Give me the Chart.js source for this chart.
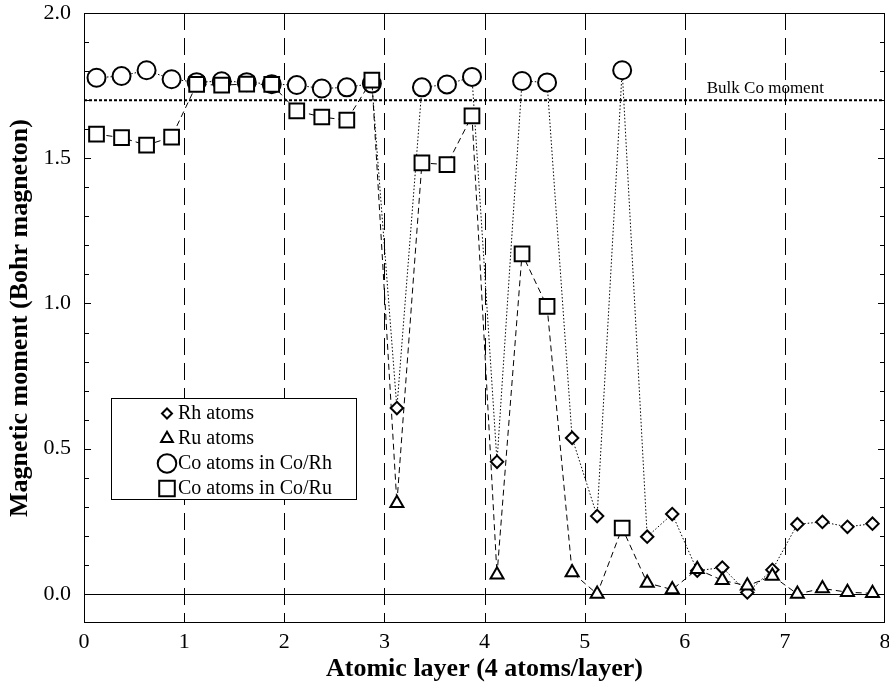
<!DOCTYPE html>
<html>
<head>
<meta charset="utf-8">
<title>Magnetic moment per atomic layer</title>
<script src="https://cdn.jsdelivr.net/npm/chart.js@4.4.1/dist/chart.umd.min.js"></script>
<style>
  html, body { margin: 0; padding: 0; background: #fff; }
  #wrap { width: 889px; height: 685px; }
</style>
</head>
<body>
<div id="wrap"><canvas id="momentChart" width="889" height="685"></canvas></div>
<script>
const SERIF = "'Liberation Serif', 'Times New Roman', serif";

// atom sites along the stack, 4 atoms per layer
const layerPos = [
  0.125, 0.375, 0.625, 0.875, 1.125, 1.375, 1.625, 1.875,
  2.125, 2.375, 2.625, 2.875, 3.125, 3.375, 3.625, 3.875,
  4.125, 4.375, 4.625, 4.875, 5.125, 5.375, 5.625, 5.875,
  6.125, 6.375, 6.625, 6.875, 7.125, 7.375, 7.625, 7.875
];
// 'Co' = cobalt site, 'X' = spacer site (Rh in Co/Rh, Ru in Co/Ru)
const siteAtom = [
  'Co', 'Co', 'Co', 'Co', 'Co', 'Co', 'Co', 'Co',
  'Co', 'Co', 'Co', 'Co', 'X', 'Co', 'Co', 'Co',
  'X', 'Co', 'Co', 'X', 'X', 'Co', 'X', 'X',
  'X', 'X', 'X', 'X', 'X', 'X', 'X', 'X'
];
const coRhMoment = [
  1.777, 1.783, 1.803, 1.772, 1.762, 1.765, 1.762, 1.755,
  1.752, 1.740, 1.744, 1.757, 0.640, 1.744, 1.754, 1.780,
  0.455, 1.766, 1.761, 0.537, 0.268, 1.803, 0.197, 0.275,
  0.080, 0.091, 0.005, 0.083, 0.240, 0.248, 0.231, 0.242
];
const coRuMoment = [
  1.583, 1.571, 1.545, 1.573, 1.754, 1.752, 1.755, 1.754,
  1.663, 1.642, 1.631, 1.769, 0.312, 1.484, 1.478, 1.646,
  0.066, 1.171, 0.990, 0.074, 0.000, 0.227, 0.038, 0.015,
  0.085, 0.047, 0.028, 0.062, 0.000, 0.019, 0.006, 0.002
];
const layerBounds = [1, 2, 3, 4, 5, 6, 7];
const bulkCoMoment = 1.7;

function sitePoints(values, atom) {
  return layerPos.map((x, i) => ({ x: x, y: values[i], atom: siteAtom[i] }))
    .filter(p => !atom || p.atom === atom);
}

function markerSet(label, values, atom, style, radius) {
  return {
    label: label,
    data: sitePoints(values, atom),
    showLine: false,
    pointStyle: style,
    pointRadius: radius,
    pointHoverRadius: radius,
    pointBorderWidth: 2,
    pointBorderColor: '#000',
    pointBackgroundColor: '#fff',
    borderColor: '#000',
    backgroundColor: '#fff'
  };
}

function lineSet(label, values, dash) {
  return {
    label: label,
    data: sitePoints(values),
    showLine: true,
    borderColor: '#000',
    borderWidth: 1,
    borderDash: dash,
    pointRadius: 0,
    fill: false
  };
}

// first dataset is painted on top
const datasets = [
  markerSet('Co atoms in Co/Ru', coRuMoment, 'Co', 'rect', 10.4),
  markerSet('Ru atoms', coRuMoment, 'X', 'triangle', 7.5),
  lineSet('Co/Ru', coRuMoment, [6, 4]),
  markerSet('Co atoms in Co/Rh', coRhMoment, 'Co', 'circle', 9),
  markerSet('Rh atoms', coRhMoment, 'X', 'rectRot', 6.2),
  lineSet('Co/Rh', coRhMoment, [1.5, 2])
];

// legend rows: dataset index and marker size in the key
const legendRows = [
  { ds: 4, r: 5 },
  { ds: 1, r: 6.8 },
  { ds: 3, r: 9.3 },
  { ds: 0, r: 11 }
];

function isMajor(v) {
  return Math.abs(v * 2 - Math.round(v * 2)) < 1e-6;
}

const framePlugin = {
  id: 'frame',
  beforeDatasetsDraw(chart) {
    const { ctx, chartArea: a, scales: { x, y } } = chart;
    ctx.save();
    ctx.strokeStyle = '#000';

    // layer boundaries
    ctx.lineWidth = 1;
    ctx.setLineDash([17, 8]);
    layerBounds.forEach(v => {
      const px = Math.round(x.getPixelForValue(v)) + 0.5;
      ctx.beginPath();
      ctx.moveTo(px, a.top);
      ctx.lineTo(px, a.bottom);
      ctx.stroke();
    });

    // zero line
    ctx.setLineDash([]);
    const y0 = Math.round(y.getPixelForValue(0)) + 0.5;
    ctx.beginPath();
    ctx.moveTo(a.left, y0);
    ctx.lineTo(a.right, y0);
    ctx.stroke();

    // bulk Co reference
    const yb = y.getPixelForValue(bulkCoMoment);
    ctx.lineWidth = 2;
    ctx.setLineDash([3, 2]);
    ctx.beginPath();
    ctx.moveTo(a.left, yb);
    ctx.lineTo(a.right, yb);
    ctx.stroke();
    ctx.setLineDash([]);
    ctx.fillStyle = '#000';
    ctx.font = '17px ' + SERIF;
    ctx.textAlign = 'left';
    ctx.textBaseline = 'middle';
    ctx.fillText('Bulk Co moment', x.getPixelForValue(6.22), yb - 11.5);
    ctx.restore();
  },
  afterDatasetsDraw(chart) {
    const { ctx, chartArea: a, scales: { y } } = chart;
    ctx.save();
    ctx.strokeStyle = '#000';
    ctx.lineWidth = 1;

    // inward tick marks on both sides
    y.ticks.forEach(t => {
      if (t.value < -1e-6) return;
      const py = Math.round(y.getPixelForValue(t.value)) + 0.5;
      const len = isMajor(t.value) ? 7 : 5;
      ctx.beginPath();
      ctx.moveTo(a.left, py);
      ctx.lineTo(a.left + len, py);
      ctx.moveTo(a.right - len, py);
      ctx.lineTo(a.right, py);
      ctx.stroke();
    });

    // plot frame
    ctx.strokeRect(a.left + 0.5, a.top + 0.5, a.width - 1, a.height - 1);

    // key
    const box = { left: 111, top: 398, width: 245, height: 101 };
    ctx.fillStyle = '#fff';
    ctx.fillRect(box.left, box.top, box.width, box.height);
    ctx.strokeRect(box.left + 0.5, box.top + 0.5, box.width, box.height);
    ctx.font = '20px ' + SERIF;
    ctx.textAlign = 'left';
    ctx.textBaseline = 'middle';
    legendRows.forEach((row, i) => {
      const ds = chart.data.datasets[row.ds];
      const cy = box.top + 15.5 + i * 25;
      ctx.lineWidth = 2;
      ctx.strokeStyle = '#000';
      ctx.fillStyle = '#fff';
      Chart.helpers.drawPoint(ctx, {
        pointStyle: ds.pointStyle, radius: row.r, rotation: 0, borderWidth: 2
      }, 167, cy);
      ctx.fillStyle = '#000';
      ctx.fillText(ds.label, 178, cy);
    });
    ctx.restore();
  }
};

new Chart(document.getElementById('momentChart'), {
  type: 'scatter',
  data: { datasets: datasets },
  plugins: [framePlugin],
  options: {
    responsive: false,
    devicePixelRatio: 1,
    animation: false,
    events: [],
    layout: { autoPadding: false, padding: { top: 13, right: 4, bottom: 0, left: 0 } },
    plugins: { legend: { display: false }, tooltip: { enabled: false } },
    scales: {
      x: {
        type: 'linear',
        min: 0,
        max: 8,
        grid: { display: false, drawTicks: false },
        border: { display: false },
        ticks: {
          stepSize: 1,
          padding: 6,
          color: '#000',
          font: { family: SERIF, size: 22 }
        },
        title: {
          display: true,
          text: 'Atomic layer (4 atoms/layer)',
          color: '#000',
          font: { family: SERIF, size: 26, weight: 'bold' },
          padding: { top: 0, bottom: 0 }
        },
        afterFit(scale) {
          scale.height = 62;
          scale.paddingLeft = 0;
          scale.paddingRight = 0;
        }
      },
      y: {
        type: 'linear',
        min: -0.1,
        max: 2.0,
        grid: { display: false, drawTicks: false },
        border: { display: false },
        ticks: {
          stepSize: 0.1,
          autoSkip: false,
          padding: 13,
          color: '#000',
          font: { family: SERIF, size: 22 },
          callback: v => (v >= 0 && isMajor(v)) ? v.toFixed(1) : ''
        },
        title: {
          display: true,
          text: 'Magnetic moment (Bohr magneton)',
          color: '#000',
          font: { family: SERIF, size: 26, weight: 'bold' },
          padding: { top: 5, bottom: 0 }
        },
        afterFit(scale) {
          scale.width = 84;
          scale.paddingTop = 0;
          scale.paddingBottom = 0;
        }
      }
    }
  }
});
</script>
</body>
</html>
